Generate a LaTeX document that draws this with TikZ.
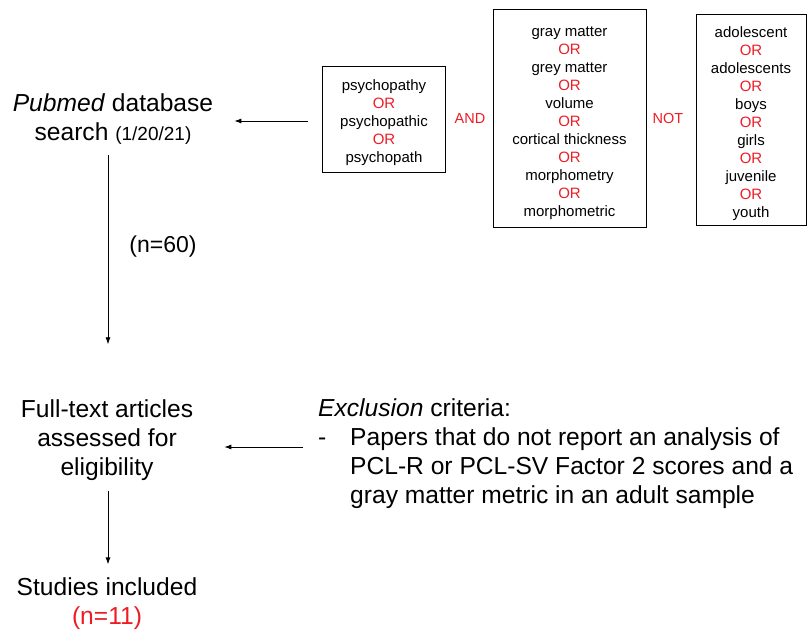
\documentclass[tikz,border=0pt]{standalone}
\usepackage{fontspec}
\setmainfont{Liberation Sans}
\usetikzlibrary{arrows.meta}
\definecolor{orred}{RGB}{237,28,36}
\newcommand\orw{\textcolor{orred}{OR}}
\begin{document}
\begin{tikzpicture}[x=1pt,y=-1pt,
  big/.style={font=\fontsize{24.6}{29}\selectfont, align=center, inner sep=0pt},
  boxframe/.style={draw, line width=1pt, inner sep=0pt},
  boxtext/.style={font=\fontsize{15}{18}\selectfont, align=center, inner sep=0pt},
  oplabel/.style={font=\fontsize{14.5}{18}\selectfont, text=orred, inner sep=0pt},
  arr/.style={-{Latex[length=7pt,width=5pt]}, line width=0.8pt}]
\useasboundingbox (0,0) rectangle (810,629);
% search term boxes
\node[boxframe, minimum width=123pt, minimum height=106pt] (b1) at (384,119.5) {};
\node[boxtext] (t1) at (384,122.5) {psychopathy\\\orw\\psychopathic\\\orw\\psychopath};
\node[boxframe, minimum width=153pt, minimum height=218pt] (b2) at (569.5,118) {};
\node[boxtext] (t2) at (569.5,123) {gray matter\\\orw\\grey matter\\\orw\\volume\\\orw\\cortical thickness\\\orw\\morphometry\\\orw\\morphometric};
\node[boxframe, minimum width=110pt, minimum height=211pt] (b3) at (751,119.5) {};
\node[boxtext] (t3) at (751,123.5) {adolescent\\\orw\\adolescents\\\orw\\boys\\\orw\\girls\\\orw\\juvenile\\\orw\\youth};
\node[oplabel] (and) at (470,119) {AND};
\node[oplabel] (not) at (668,119) {NOT};
% main flow
\node[big] (pubmed) at (113,119.5) {\textit{Pubmed} database\\search {\fontsize{19}{29}\selectfont (1/20/21)}};
\node[big, font=\fontsize{23}{29}\selectfont] (n60) at (163,247) {(n=60)};
\node[big] (full) at (107,440) {Full-text articles\\assessed for\\eligibility};
\node[big] (studies) at (107,603.5) {Studies included\\\textcolor{orred}{(n=11)}};
\node[big, align=left, anchor=west] (excl) at (318,454)
  {\textit{Exclusion} criteria:\\
   \makebox[32pt][l]{-}Papers that do not report an analysis of\\
   \hspace*{32pt}PCL-R or PCL-SV Factor 2 scores and a\\
   \hspace*{32pt}gray matter metric in an adult sample};
% connectors
\draw[arr, shorten <=14pt, shorten >=21pt] ([yshift=-1.5pt]b1.west) -- ([yshift=-1.5pt]b1.west -| pubmed.east);
\draw[arr, shorten <=10pt, shorten >=55pt] ([xshift=-5pt]pubmed.south) -- ([xshift=-5pt]pubmed.south |- full.north);
\draw[arr, shorten <=15pt, shorten >=31pt] ([yshift=7pt]excl.west) -- ([yshift=7pt]excl.west -| full.east);
\draw[arr, shorten <=10pt, shorten >=13pt] ([xshift=1pt]full.south) -- ([xshift=1pt]full.south |- studies.north);
\end{tikzpicture}
\end{document}
